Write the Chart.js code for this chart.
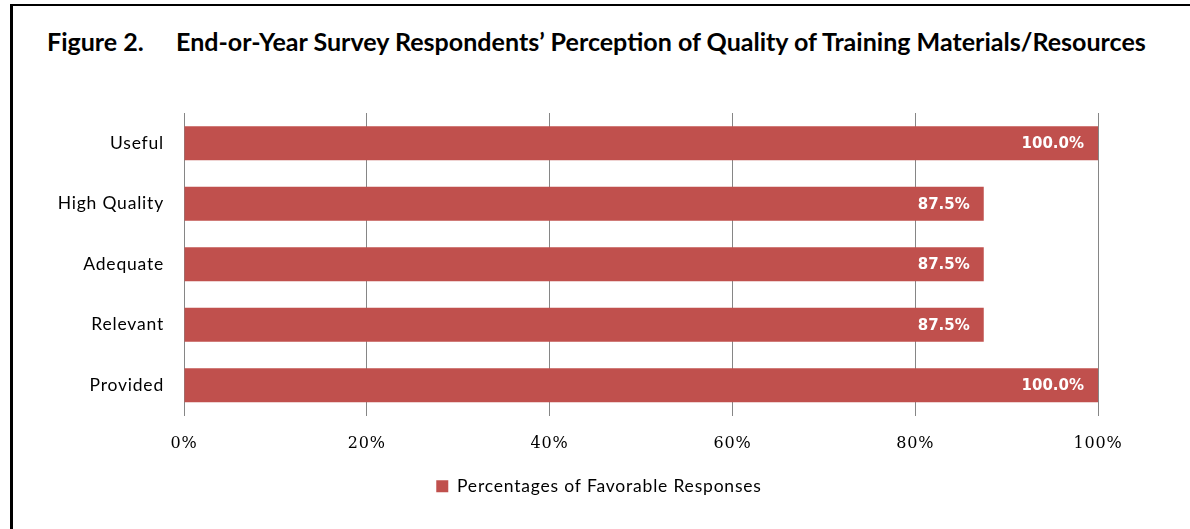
<!DOCTYPE html>
<html>
<head>
<meta charset="utf-8">
<script src="https://cdn.jsdelivr.net/npm/chart.js@4.4.0/dist/chart.umd.min.js"></script>
<style>
  html, body { margin: 0; padding: 0; background: #fff; }
  #frame { position: relative; width: 1190px; height: 529px; overflow: hidden; }
  #frame:before { content: ''; position: absolute; left: 10px; top: 4px; width: 1190px; height: 600px;
    border-left: 3px solid #000; border-top: 2px solid #000; }
  .title { position: absolute; top: 26px; font-family: Lato, sans-serif; font-weight: bold; font-size: 20px;
    color: #000; white-space: nowrap; }
  #fig { left: 47px; }
  #ttl { left: 176px; }
  #wrap { position: absolute; left: 0; top: 0; width: 1190px; height: 529px; }
</style>
</head>
<body>
<div id="frame">
  <div class="title" id="fig">Figure 2.</div>
  <div class="title" id="ttl">End-or-Year Survey Respondents’ Perception of Quality of Training Materials/Resources</div>
  <div id="wrap"><canvas id="chart"></canvas></div>
</div>
<script>
// chart data
const categories = ['Useful', 'High Quality', 'Adequate', 'Relevant', 'Provided'];
const favorable = [100.0, 87.5, 87.5, 87.5, 100.0];
const tickValues = [0, 20, 40, 60, 80, 100];
const seriesName = 'Percentages of Favorable Responses';

// stretch the title line to the width of the original
const ttl = document.getElementById('ttl');
const titleSize = (20 * 970 / ttl.getBoundingClientRect().width).toFixed(2) + 'px';
ttl.style.fontSize = titleSize;
document.getElementById('fig').style.fontSize = titleSize;

// the original text is rendered a bit wider, so space the letters out a little
const spacing = {
    id: 'spacing',
    beforeUpdate(chart) { chart.ctx.letterSpacing = '0.8px'; },
    beforeDraw(chart) { chart.ctx.letterSpacing = '0.8px'; },
    afterLayout(chart) {
        // legend is centred on the whole picture, not on the padded area
        chart.legend.left += 44;
        chart.legend.right += 44;
    }
};

// white value labels inside the bar ends
const barLabels = {
    id: 'barLabels',
    afterDatasetsDraw(chart) {
        const ctx = chart.ctx;
        ctx.save();
        ctx.letterSpacing = '0px';
        ctx.font = 'bold 15px "DejaVu Sans"';
        ctx.fillStyle = '#fff';
        ctx.textAlign = 'right';
        ctx.textBaseline = 'middle';
        chart.getDatasetMeta(0).data.forEach((bar, i) => {
            ctx.fillText(favorable[i].toFixed(1) + '%', bar.x - 14, bar.y + 1);
        });
        ctx.restore();
    }
};

const ctx = document.getElementById('chart').getContext('2d');
new Chart(ctx, {
    type: 'bar',
    data: {
        labels: categories,
        datasets: [{
            label: seriesName,
            data: favorable,
            backgroundColor: '#C0504D',
            borderWidth: 0,
            barPercentage: 0.56,
            categoryPercentage: 1
        }]
    },
    options: {
        indexAxis: 'y',
        responsive: true,
        maintainAspectRatio: false,
        animation: false,
        layout: { padding: { left: 12, right: 92, top: 113, bottom: 24 } },
        plugins: {
            legend: {
                position: 'bottom',
                labels: {
                    boxWidth: 12,
                    boxHeight: 12,
                    padding: 10,
                    color: '#000',
                    font: { family: 'Lato', size: 17.5 }
                }
            },
            tooltip: { enabled: false }
        },
        scales: {
            x: {
                min: 0,
                max: 100,
                afterBuildTicks: (axis) => { axis.ticks = tickValues.map(v => ({ value: v })); },
                afterFit: (axis) => { axis.height = 52; },
                grid: { color: '#868686', drawTicks: false },
                border: { display: false },
                ticks: {
                    padding: 19,
                    color: '#000',
                    font: { family: 'DejaVu Serif', size: 16 },
                    callback: (v) => v + '%'
                }
            },
            y: {
                afterFit: (axis) => { axis.width = 172; },
                grid: { display: false, drawTicks: false },
                border: { color: '#868686' },
                ticks: {
                    padding: 20,
                    color: '#000',
                    font: { family: 'Lato', size: 17.5 }
                }
            }
        }
    },
    plugins: [spacing, barLabels]
});
</script>
</body>
</html>
